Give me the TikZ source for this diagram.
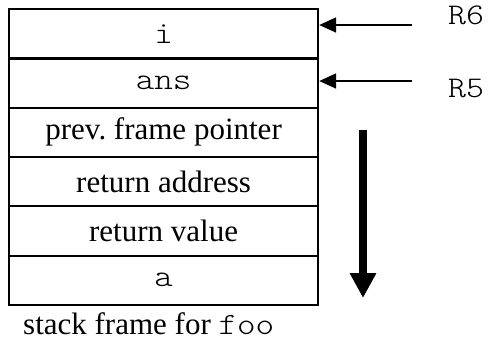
\documentclass[tikz,border=0pt]{standalone}
\usepackage{fontspec}
\setmainfont{Liberation Serif}
% thin serif typewriter face, widened to Courier proportions
\setmonofont{lmmonolt10-regular.otf}[FakeStretch=1.14]
\usetikzlibrary{arrows.meta}
\frenchspacing
\begin{document}
\begin{tikzpicture}[x=1pt,y=-1pt,
  cell/.style={draw, line width=2.2pt, minimum width=309pt, minimum height=49.3pt,
    inner sep=0pt, anchor=north west, font=\fontsize{31}{36}\selectfont},
  ptr/.style={line width=1.8pt, -{Triangle[length=17pt,width=15pt]}},
  reg/.style={font=\ttfamily\fontsize{30}{36}\selectfont, inner sep=0pt},
  growarrow/.style={line width=8pt, -{Triangle[length=25pt,width=25pt]}},
]
\useasboundingbox (0,0) rectangle (490,341);

% stack frame cells, top to bottom
\node[cell] (c1) at (8,8)     {\texttt{i}};
\node[cell] (c2) at (8,57.3)  {\texttt{ans}};
\node[cell] (c3) at (8,106.6) {prev. frame pointer};
\node[cell] (c4) at (8,155.9) {return address};
\node[cell] (c5) at (8,205.2) {return value};
\node[cell] (c6) at (8,254.5) {\texttt{a}};

% register pointers
\node[reg] (r6) at (466,15) {R6};
\node[reg] (r5) at (466,88) {R5};
\coordinate (r6s) at (412,25);
\coordinate (r5s) at (412,81);
\draw[ptr] (r6s) -- (c1.east |- r6s);
\draw[ptr] (r5s) -- (c2.east |- r5s);

% direction of stack growth
\coordinate (gtop) at (363,130);
\coordinate (gbot) at (363,298);
\draw[growarrow] (gtop) -- (gbot);

% caption
\node[anchor=base west, inner sep=0pt, font=\fontsize{31}{36}\selectfont] (cap) at (23,334) {stack frame for \texttt{foo}};
\end{tikzpicture}
\end{document}
